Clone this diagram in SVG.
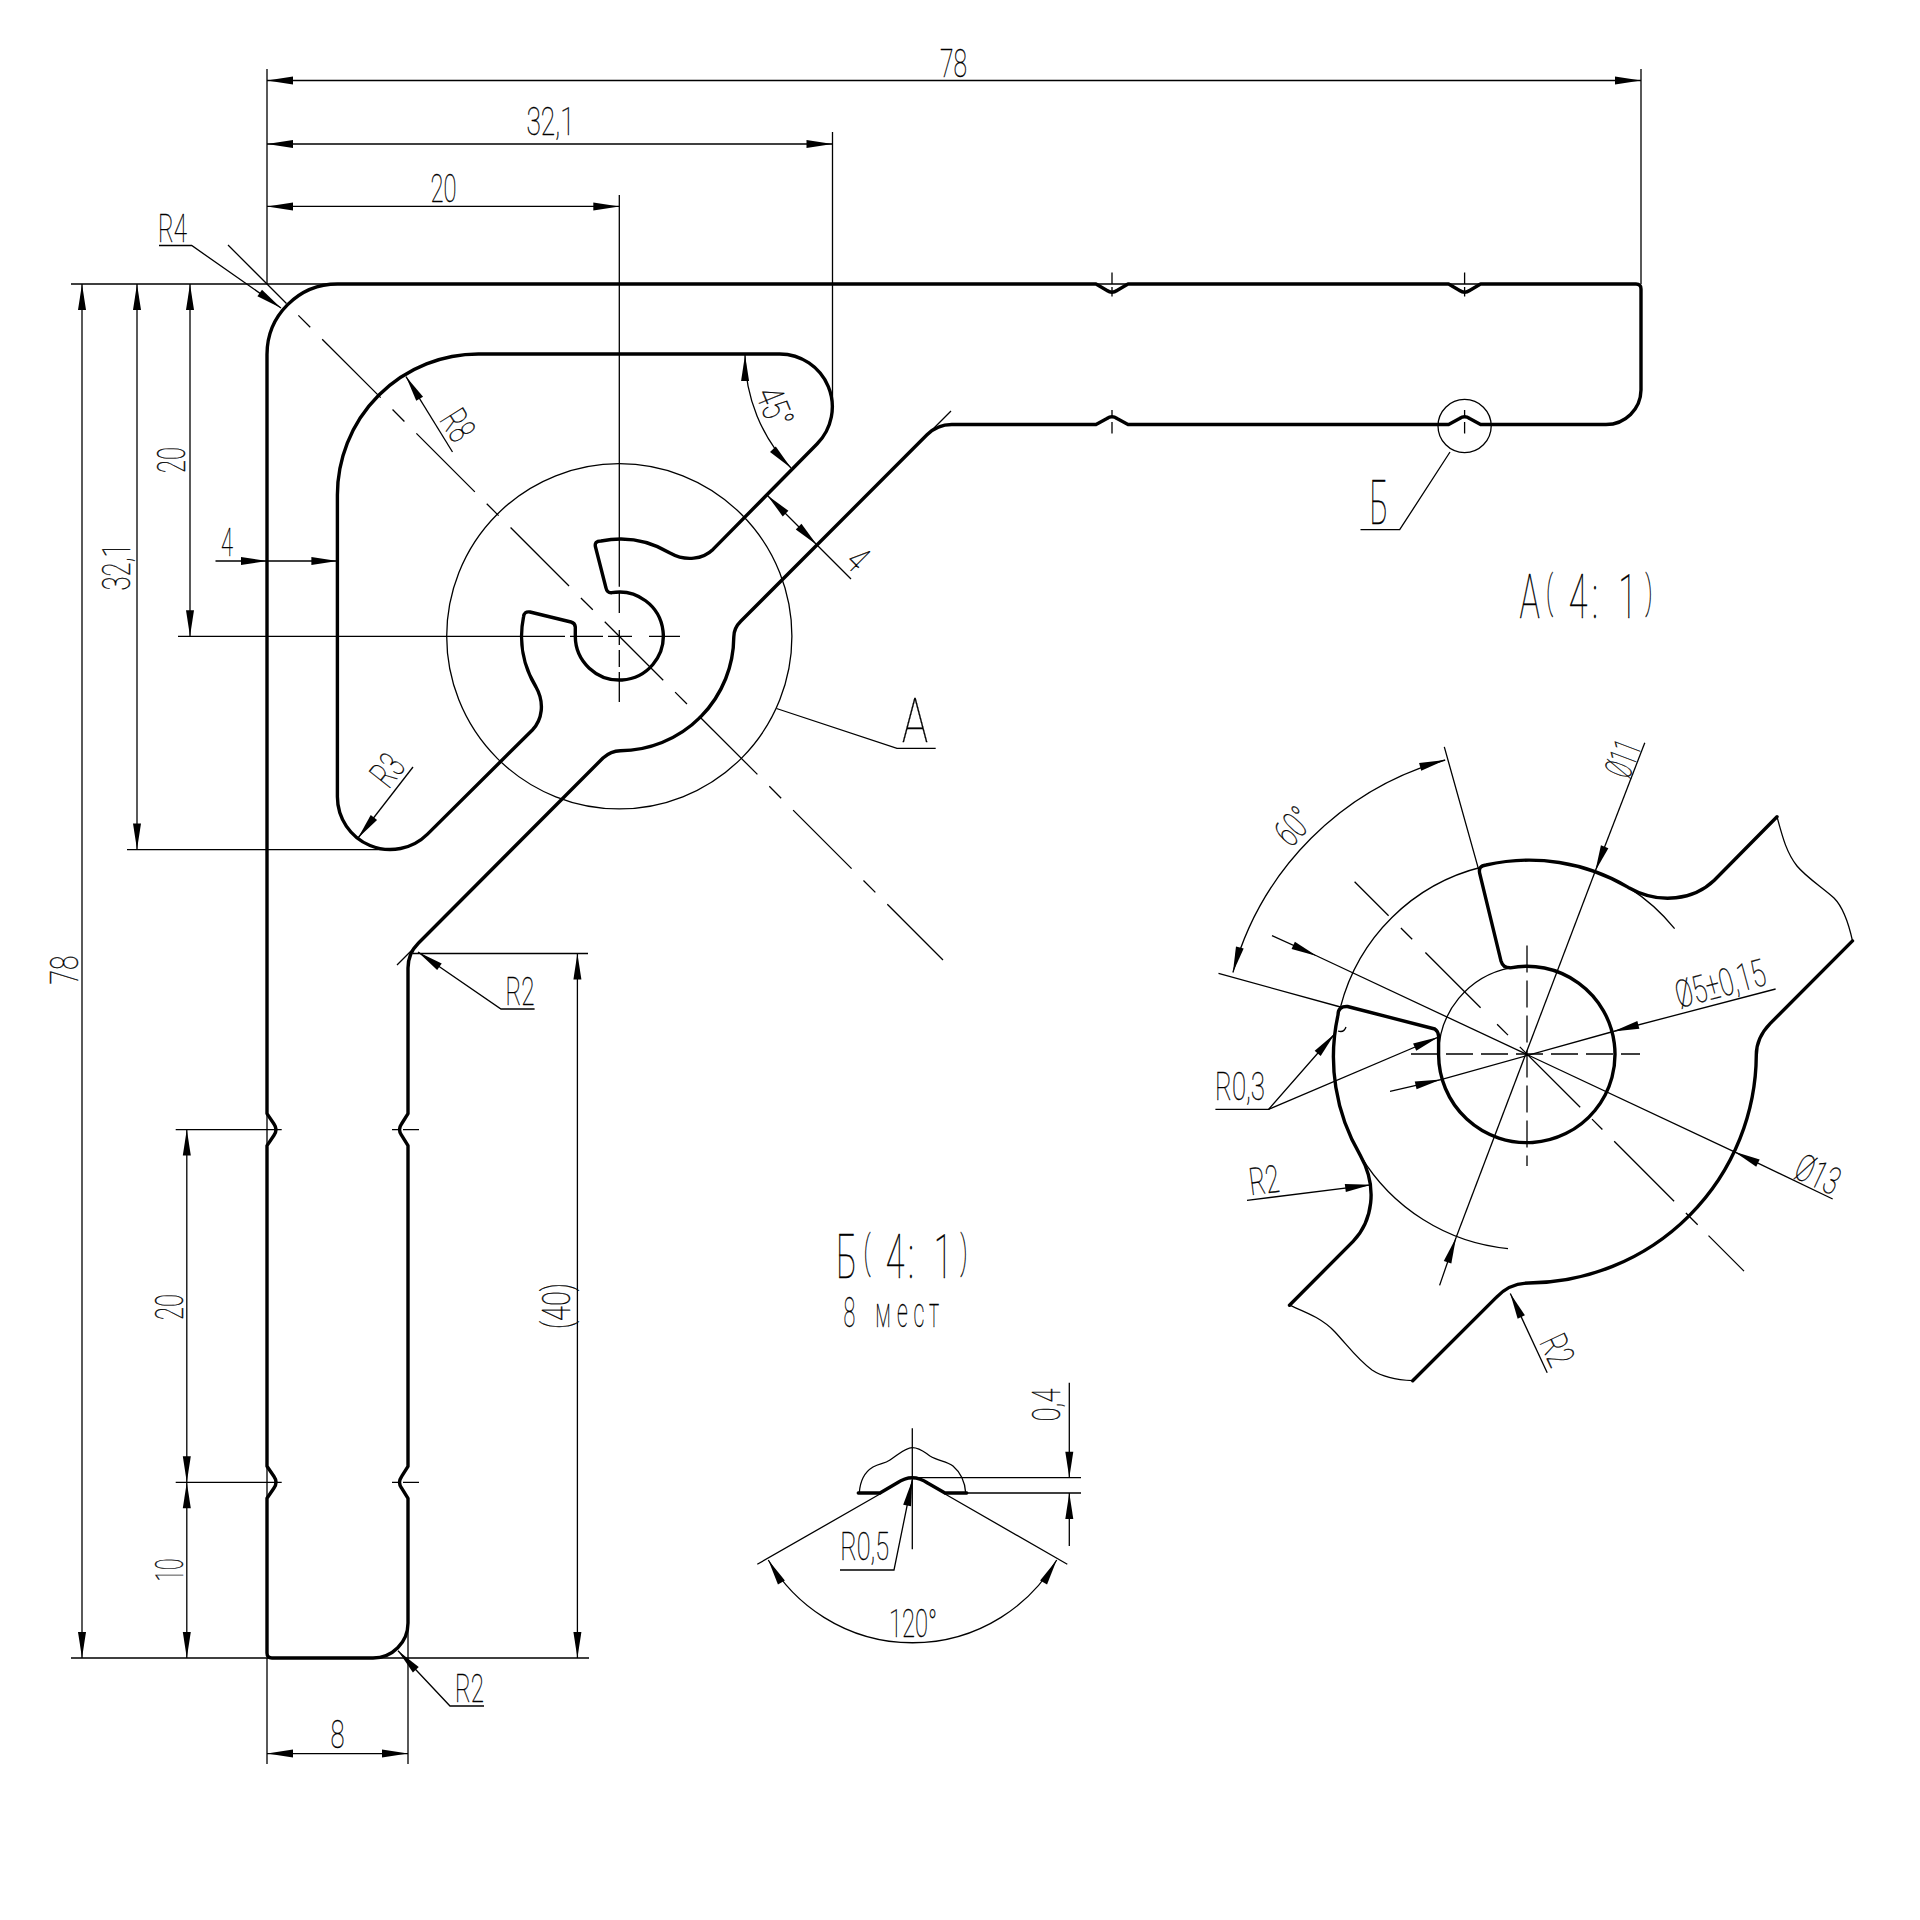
<svg xmlns="http://www.w3.org/2000/svg" width="1920" height="1920" viewBox="0 0 1920 1920">
<style>
.h{fill:none;stroke:#000;stroke-width:3.4;stroke-linejoin:round;stroke-linecap:round}
.l{fill:none;stroke:#000;stroke-width:1.3}
.a{marker-end:url(#ar)}
.b{marker-start:url(#ar);marker-end:url(#ar)}
text{font-family:Roboto,"Liberation Sans",sans-serif;font-weight:100;font-size:38px;fill:#000;text-anchor:middle;stroke:#000;stroke-width:.35}
.big{font-size:62px}
.mid{font-size:43px}
.par{font-size:44px}
</style>
<defs>
<marker id="ar" markerUnits="userSpaceOnUse" markerWidth="30" markerHeight="12" refX="26" refY="5" orient="auto-start-reverse" overflow="visible"><path d="M0,1 L26,5 L0,9 Z" fill="#000"/></marker>
</defs>
<rect width="1920" height="1920" fill="#fff"/>
<g id="centerlines">
<path class="l" d="M228,245 L943,960" stroke-dasharray="82.7 16.8 16.8 16.9"/>
<path class="l" d="M619.3,195V586.7M619.3,591V613M619.3,630V645M619.3,650V667M619.3,672V702"/>
<path class="l" d="M178,636.3H565M570,636.3H603M608,636.3H632M649,636.3H680"/>
<path class="l" d="M1112,272.5V284M1112,287V296.4M1464.6,272.5V284M1464.6,287V296.4M1112,410V418M1112,422V433.5M1464.6,410V418M1464.6,422V433.5"/>
<path class="l" d="M392,1129.6H399M403,1129.6H419M392,1482.3H399M403,1482.3H419"/>
<path class="l" d="M1096,284H1128M1448.6,284H1480.6M267,1113.6V1145.6M267,1466.3V1498.3"/>
<path class="l" d="M1411,1054H1640" stroke-dasharray="27 8"/>
<path class="l" d="M1527,945.6V1166" stroke-dasharray="27 8"/>
<path class="l" d="M1354.6,881.7L1388.6,915.7M1400.9,928L1412.2,939.3M1425.4,952.5L1480.6,1007.7M1497.1,1024.2L1508,1035.1M1519.8,1046.9L1580.2,1107.3M1592,1119.1L1602.4,1129.5M1614.2,1141.3L1674.1,1201.2M1685.9,1213L1697.7,1224.8M1708.5,1235.6L1744,1271.1"/>
<path class="l" d="M912.3,1428.3V1549.3"/>
</g>
<g id="part">
<path class="h" d="M337.5,284 L1096,284 L1107,290.5 Q1112,294 1117,290.5 L1128,284 L1448.6,284 L1459.6,290.5 Q1464.6,294 1469.6,290.5 L1480.6,284 L1636,284 Q1641,284 1641,289 L1641,390 A35,35 0 0 1 1606,424.5 L1480.6,424.5 L1469.6,418.5 Q1464.6,415 1459.6,418.5 L1448.6,424.5 L1128,424.5 L1117,418.5 Q1112,415 1107,418.5 L1096,424.5 L952,424.5 A35,35 0 0 0 927,434.8 L741,621 Q733.8,628 733.8,637 A114.5,114.5 0 0 1 620.3,750.8 Q611,751 603,758 L418.3,943.2 A35,35 0 0 0 408,968 L408,1113.6 L401.5,1124 Q397.5,1129.6 401.5,1135.2 L408,1145.6 L408,1466.3 L401.5,1476.7 Q397.5,1482.3 401.5,1487.9 L408,1498.3 L408,1623 A35,35 0 0 1 373,1658 L272,1658 Q267,1658 267,1653 L267,1498.3 L274,1488 Q278,1482.3 274,1476.6 L267,1466.3 L267,1145.6 L274,1135.3 Q278,1129.6 274,1123.9 L267,1113.6 L267,354.5 A70.5,70.5 0 0 1 337.5,284 Z"/>
<path class="h" d="M478.4,354 L779.7,354 A52.8,52.8 0 0 1 817,444 L713,549.4 C703,559 686,562 670,553 A97,97 0 0 0 601,541 Q594,541 595.5,547 L606,588 Q607,593 611.7,592.7 A44,44 0 1 1 575.3,636.3 L575.3,627 Q575,623 571,622 L530,612 Q524,611 523.5,617 A97,97 0 0 0 536,687 C545,703 542,720 532.4,730 L427.5,834.1 A52.8,52.8 0 0 1 337.4,796.8 L337.4,495 A141,141 0 0 1 478.4,354 Z"/>
</g>
<g id="main-dimensions">
<circle class="l" cx="619.3" cy="636.3" r="172.6"/>
<path class="l" d="M267,69V284M267,1658V1764M408,1623V1764M1641,69V284M832.5,132V404"/>
<path class="l" d="M71,284H337M71,1658H589M127,849.6H390M413,953.5H588M175.7,1129.6H281.7M175.7,1482.3H281.7"/>
<path class="l" d="M925,437L951,411M397,965L416,946"/>
<path class="l b" d="M267,80.5H1641"/>
<path class="l b" d="M267,144H832.5"/>
<path class="l b" d="M267,206.4H619.3"/>
<path class="l b" d="M82,284V1658"/>
<path class="l b" d="M137,284V849.6"/>
<path class="l b" d="M190,284V636.3"/>
<path class="l a" d="M215.5,561H267"/>
<path class="l a" d="M267,561H337.4"/>
<path class="l b" d="M186.8,1129.6V1482.3"/>
<path class="l b" d="M186.8,1482.3V1658"/>
<path class="l b" d="M577.4,953.5V1658"/>
<path class="l b" d="M267,1753.6H408"/>
<path class="l a" d="M159,245.5H191.7L281,308"/>
<path class="l a" d="M452.5,452L406,376.6"/>
<path class="l a" d="M413,767L358,838"/>
<path class="l b" d="M745,355A163,163 0 0 0 791,468"/>
<path class="l b" d="M767.2,495.2L817,545"/>
<path class="l" d="M817,545L851,579"/>
<path class="l" d="M776.5,708.5L897,748.3H935.7"/>
<path class="l a" d="M534.6,1009H501L418,952"/>
<path class="l a" d="M484,1706H450L398,1650.7"/>
<circle class="l" cx="1464.6" cy="426" r="26.6"/>
<path class="l" d="M1450,452L1399.7,529.7H1360.5"/>
</g>
<g id="main-labels">
<text x="953.5" y="76.5" textLength="27" lengthAdjust="spacingAndGlyphs">78</text>
<text x="550.5" y="134.7" textLength="48" lengthAdjust="spacingAndGlyphs">32,1</text>
<text x="443.5" y="202" textLength="26" lengthAdjust="spacingAndGlyphs">20</text>
<text x="172.4" y="242" textLength="29" lengthAdjust="spacingAndGlyphs">R4</text>
<text transform="translate(185,460) rotate(-90)" textLength="26" lengthAdjust="spacingAndGlyphs">20</text>
<text transform="translate(130,567) rotate(-90)" textLength="47" lengthAdjust="spacingAndGlyphs">32,1</text>
<text x="227" y="556" textLength="12" lengthAdjust="spacingAndGlyphs">4</text>
<text transform="translate(78,970) rotate(-90)" textLength="29" lengthAdjust="spacingAndGlyphs">78</text>
<text transform="translate(182.5,1307) rotate(-90)" textLength="26" lengthAdjust="spacingAndGlyphs">20</text>
<text transform="translate(182.5,1570) rotate(-90)" textLength="23" lengthAdjust="spacingAndGlyphs">10</text>
<text transform="translate(570,1306) rotate(-90)" textLength="46" lengthAdjust="spacingAndGlyphs">(40)</text>
<text transform="translate(458,425) rotate(58)" y="13.5" textLength="29" lengthAdjust="spacingAndGlyphs">R8</text>
<text transform="translate(387,770) rotate(-52)" y="13.5" textLength="29" lengthAdjust="spacingAndGlyphs">R3</text>
<text transform="translate(775,407) rotate(68)" y="13.5" textLength="40" lengthAdjust="spacingAndGlyphs">45°</text>
<text transform="translate(858,559) rotate(45)" y="13.5" textLength="14" lengthAdjust="spacingAndGlyphs">4</text>
<text class="big" x="915" y="742" textLength="26" lengthAdjust="spacingAndGlyphs">А</text>
<text class="big" x="1379" y="524" textLength="19" lengthAdjust="spacingAndGlyphs">Б</text>
<text x="520" y="1004.7" textLength="29" lengthAdjust="spacingAndGlyphs">R2</text>
<text x="469.5" y="1702" textLength="29" lengthAdjust="spacingAndGlyphs">R2</text>
<text x="337.5" y="1748" textLength="14" lengthAdjust="spacingAndGlyphs">8</text>
<text class="big" transform="scale(.55,1)" x="2781.1 2817.6 2840 2869.1 2900 2930 2959.3 2998.2" y="618 607.5 618 618 618 618 618 607.5">А<tspan class="par">(</tspan> 4: 1<tspan class="par">)</tspan></text>
<text class="big" transform="scale(.55,1)" x="1539.3 1576.4 1600 1627.3 1656.4 1685 1714.5 1752.7" y="1278 1267.5 1278 1278 1278 1278 1278 1267.5">Б<tspan class="par">(</tspan> 4: 1<tspan class="par">)</tspan></text>
<text class="mid" transform="scale(.5,1)" x="1698.6 1733 1766 1805 1838 1868" y="1327">8 мест</text>
</g>
<g id="detail-b">
<path class="h" d="M858.3,1493H880L897,1483Q912.3,1472.5 927.6,1483L945,1493H966.7"/>
<path class="l" d="M859.3,1493C860,1482 863,1473 873,1467C880,1463 884,1464 890,1460C898,1455 905,1447.7 912.3,1447.7C920,1447.7 924,1452 930,1456C938,1461 947,1461 953,1466C960,1472 965,1482 965.7,1493"/>
<path class="l" d="M757.3,1564.3L881.7,1493M1067.3,1564.3L943.3,1493"/>
<path class="l b" d="M768.3,1560A167,167 0 0 0 1056.7,1560"/>
<path class="l a" d="M840,1570H894L912.3,1480"/>
<path class="l a" d="M1069.3,1382.7V1477.7"/>
<path class="l a" d="M1069.3,1546V1493"/>
<path class="l" d="M912.3,1477.7H1081M966,1493H1081"/>
<text x="913" y="1637" textLength="48" lengthAdjust="spacingAndGlyphs">120°</text>
<text x="864.7" y="1560" textLength="49" lengthAdjust="spacingAndGlyphs">R0,5</text>
<text transform="translate(1060,1405) rotate(-90)" textLength="33" lengthAdjust="spacingAndGlyphs">0,4</text>
</g>
<g id="detail-a">
<path class="h" d="M1777,816.7L1714.3,880.2C1694.3,899.4 1660.3,905.4 1628.3,887.4A194,194 0 0 0 1486,865Q1478,866 1479.7,873.4L1500.9,960.7Q1503,968 1510.3,967.8A88.2,88.2 0 1 1 1438.6,1055L1438.6,1036Q1438,1031 1434.8,1029L1347.5,1006.5Q1338,1006 1338,1015A194,194 0 0 0 1360.3,1155.4C1378.3,1187.4 1372.3,1221.4 1353.1,1241.4L1289.5,1305.2"/>
<path class="h" d="M1852.5,940.9L1770.3,1023.4C1760,1034 1756.3,1045 1756.3,1055A229.4,229.4 0 0 1 1528.9,1283C1517,1283 1505,1288 1496.3,1297.4L1412.7,1380.7"/>
<path class="l" d="M1777,816.7C1782,835 1786,852 1797,866C1806,877 1823,888 1834,898C1844,908 1849,925 1852.5,940.9"/>
<path class="l" d="M1289.5,1305.2C1305,1312 1322,1318 1335,1332C1348,1346 1358,1360 1372,1370C1384,1378 1398,1380 1412.7,1380.7"/>
<path class="l" d="M1628.3,887.4A194,194 0 0 1 1674.6,928.6M1482,867A194,194 0 0 0 1340.5,1007M1360.3,1155.4A194,194 0 0 0 1508,1248.6M1510.3,967.8A88.2,88.2 0 0 0 1438.6,1055"/>
<path class="l" d="M1338,1031Q1344,1033 1346,1027"/>
<path class="l" d="M1444.3,746.9L1479.7,873.4M1218.5,973.4L1340.5,1007"/>
<path class="l b" d="M1232.9,972.5A305,305 0 0 1 1445.2,760"/>
<path class="l a" d="M1644.8,742.7L1595.3,871"/>
<path class="l" d="M1595.3,871L1456,1237.7"/>
<path class="l a" d="M1439.6,1285.4L1456,1237.7"/>
<path class="l a" d="M1775.6,989L1613.2,1031.5"/>
<path class="l" d="M1613.2,1031.5L1441,1079.6"/>
<path class="l a" d="M1390,1091.4L1441,1079.6"/>
<path class="l a" d="M1832.7,1199L1734.5,1151.8"/>
<path class="l" d="M1734.5,1151.8L1316.9,956"/>
<path class="l a" d="M1272,935.7L1316.9,956"/>
<path class="l a" d="M1215.4,1109.3H1268.7L1334.8,1033.8"/>
<path class="l a" d="M1268.7,1109.3L1438.6,1037"/>
<path class="l a" d="M1247,1200.4L1371.1,1184.8"/>
<path class="l a" d="M1547.2,1372.7L1510.3,1293.4"/>
<text x="1240" y="1100" textLength="50" lengthAdjust="spacingAndGlyphs">R0,3</text>
<text transform="translate(1264,1180) rotate(-7)" y="13.5" textLength="30" lengthAdjust="spacingAndGlyphs">R2</text>
<text transform="translate(1557.5,1350) rotate(65)" y="13.5" textLength="30" lengthAdjust="spacingAndGlyphs">R2</text>
<text transform="translate(1293.3,826.2) rotate(-47)" y="13.5" textLength="36" lengthAdjust="spacingAndGlyphs">60°</text>
<text transform="translate(1622.7,758.7) rotate(-69)" y="13.5" textLength="36" lengthAdjust="spacingAndGlyphs">Ø11</text>
<text transform="translate(1720.3,983.3) rotate(-15)" y="13.5" textLength="92" lengthAdjust="spacingAndGlyphs">Ø5±0,15</text>
<text transform="translate(1818,1174) rotate(25)" y="13.5" textLength="45" lengthAdjust="spacingAndGlyphs">Ø13</text>
</g>
</svg>
